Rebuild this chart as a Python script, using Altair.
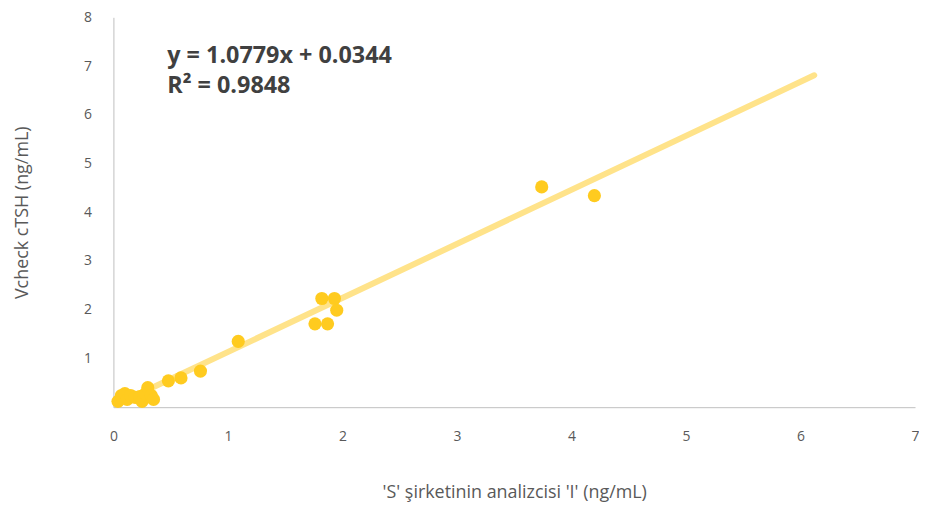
import altair as alt
import pandas as pd

# Scatter points
x_vals = [0.04, 0.07, 0.10, 0.12, 0.15, 0.19, 0.23, 0.25, 0.28, 0.30, 0.33, 0.35,
          0.48, 0.59, 0.76, 1.09, 1.76, 1.87, 1.82, 1.93, 1.95, 3.74, 4.20]
y_vals = [0.12, 0.24, 0.28, 0.16, 0.24, 0.20, 0.22, 0.12, 0.28, 0.40, 0.24, 0.16,
          0.54, 0.60, 0.74, 1.35, 1.71, 1.71, 2.23, 2.23, 1.99, 4.52, 4.34]

# Trend line end points as drawn
trend_x = [0.05, 6.12]
trend_y = [0.08, 6.81]

# Annotation
eq_lines = ["y = 1.0779x + 0.0344", "R² = 0.9848"]
eq_x = [0.47, 0.47]
eq_y = [7.20, 6.59]

x_ticks = [0, 1, 2, 3, 4, 5, 6, 7]
y_ticks = [1, 2, 3, 4, 5, 6, 7, 8]

pts = pd.DataFrame({"x": x_vals, "y": y_vals})
trend = pd.DataFrame({"x": trend_x, "y": trend_y})
ann = pd.DataFrame({"x": eq_x, "y": eq_y, "t": eq_lines})

FONT = "Open Sans"
GRAY = "#595959"

xscale = alt.Scale(domain=[0, 7], nice=False, zero=False)
yscale = alt.Scale(domain=[0, 8], nice=False, zero=False)

xaxis = alt.Axis(values=x_ticks, format="d", title="'S' şirketinin analizcisi 'I' (ng/mL)",
                 grid=False, ticks=False, domainColor="#BFBFBF", labelColor=GRAY,
                 labelFont=FONT, labelFontSize=14, labelPadding=23, labelFlush=False,
                 titleFont=FONT, titleFontSize=18, titleFontWeight="normal",
                 titleColor=GRAY, titlePadding=40)
yaxis = alt.Axis(values=y_ticks, format="d", title="Vcheck cTSH (ng/mL)",
                 grid=False, ticks=False, domainColor="#BFBFBF", labelColor=GRAY,
                 labelFont=FONT, labelFontSize=14, labelPadding=22, labelFlush=False,
                 titleFont=FONT, titleFontSize=18, titleFontWeight="normal",
                 titleColor=GRAY, titlePadding=52)

line = alt.Chart(trend).mark_line(color="#FFE38A", strokeWidth=6, strokeCap="round").encode(
    x=alt.X("x:Q", scale=xscale, axis=xaxis),
    y=alt.Y("y:Q", scale=yscale, axis=yaxis),
)

points = alt.Chart(pts).mark_circle(color="#FFCB1F", opacity=1, size=175).encode(
    x=alt.X("x:Q", scale=xscale),
    y=alt.Y("y:Q", scale=yscale),
)

text = alt.Chart(ann).mark_text(align="left", baseline="middle", font=FONT,
                                 fontSize=23.5, fontWeight="bold", color="#404040").encode(
    x=alt.X("x:Q", scale=xscale),
    y=alt.Y("y:Q", scale=yscale),
    text="t:N",
)

chart = alt.layer(line, points, text).properties(
    width=806, height=392,
    autosize=alt.AutoSizeParams(type="none"),
    padding={"left": 106, "top": 8, "right": 4, "bottom": 100},
).configure_view(stroke=None)

chart.save("out.html", embed_options={"renderer": "svg", "actions": False})
